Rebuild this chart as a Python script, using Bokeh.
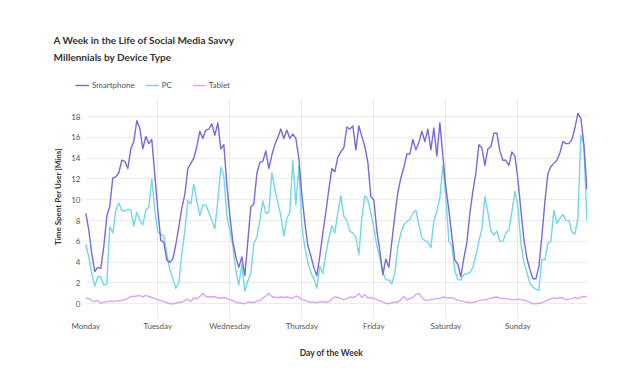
from bokeh.plotting import figure
from bokeh.models import Range1d, FixedTicker, Title, Legend, LegendItem, BoxAnnotation
from bokeh.embed import file_html
from bokeh.resources import INLINE

# ---- data (hourly minutes per user, Monday 00:00 .. Sunday 23:00) ----
days = ["Monday", "Tuesday", "Wednesday", "Thursday", "Friday", "Saturday", "Sunday"]
y_ticks = [0, 2, 4, 6, 8, 10, 12, 14, 16, 18]
series_names = ["Smartphone", "PC", "Tablet"]

smartphone_mon = [8.7, 7.1, 4.8, 3.1, 3.5, 3.4, 5.5, 8.4, 9.4, 12.1, 12.2, 12.6, 13.8, 13.7, 13.0, 14.9, 15.6, 17.6, 16.9, 14.9, 16.1, 15.4, 15.8, 12.4]
smartphone_tue = [9.0, 6.1, 5.9, 4.2, 4.0, 4.3, 5.7, 7.4, 9.2, 10.5, 13.0, 13.5, 14.0, 15.1, 16.6, 15.9, 16.7, 16.8, 17.3, 16.2, 17.4, 14.9, 15.3, 11.5]
smartphone_wed = [8.5, 6.0, 4.5, 3.5, 4.5, 2.7, 6.0, 9.3, 9.6, 12.5, 13.6, 13.7, 14.7, 13.0, 14.3, 15.3, 16.0, 16.8, 15.9, 16.7, 15.9, 16.3, 15.9, 14.0]
smartphone_thu = [10.5, 7.8, 5.6, 4.6, 3.5, 2.7, 4.6, 6.8, 8.8, 11.0, 13.0, 12.7, 14.1, 14.6, 15.0, 17.0, 16.8, 17.1, 14.8, 17.1, 16.1, 15.1, 13.6, 10.3]
smartphone_fri = [10.0, 7.0, 5.1, 2.8, 4.3, 3.5, 6.0, 8.5, 10.7, 12.1, 13.1, 14.4, 14.4, 15.8, 14.8, 15.5, 16.6, 15.6, 16.8, 14.8, 16.9, 14.2, 17.4, 14.2]
smartphone_sat = [11.2, 9.0, 6.5, 4.2, 3.8, 2.6, 4.4, 5.9, 8.7, 10.8, 12.6, 15.3, 15.0, 13.3, 14.9, 15.1, 16.4, 16.4, 14.7, 13.8, 13.8, 13.3, 14.6, 14.2]
smartphone_sun = [12.0, 9.0, 6.2, 4.4, 3.3, 2.4, 2.4, 3.6, 6.5, 9.8, 12.5, 13.2, 13.5, 13.8, 14.5, 15.6, 15.4, 15.4, 15.8, 16.9, 18.3, 17.8, 15.3, 11.0]

pc_mon = [5.7, 4.5, 2.9, 1.7, 2.6, 2.6, 1.8, 1.9, 7.4, 6.8, 9.0, 9.7, 9.0, 8.9, 9.1, 9.0, 7.5, 8.8, 8.0, 7.6, 9.0, 9.3, 12.0, 9.0]
pc_tue = [6.9, 6.7, 6.5, 4.8, 3.3, 2.4, 1.5, 2.0, 4.8, 7.0, 9.9, 9.6, 11.5, 9.9, 8.5, 9.5, 9.5, 8.8, 8.0, 7.2, 9.9, 13.1, 12.3, 8.5]
pc_wed = [7.0, 5.6, 3.2, 1.8, 3.8, 1.2, 2.2, 2.9, 5.8, 6.4, 8.0, 9.9, 8.7, 8.8, 12.6, 11.0, 9.7, 8.5, 6.5, 8.2, 8.8, 13.8, 9.5, 13.2]
pc_thu = [7.5, 5.4, 4.0, 3.0, 2.4, 1.5, 3.6, 2.9, 4.8, 6.3, 7.5, 6.8, 8.8, 10.4, 8.4, 8.0, 7.0, 6.8, 6.4, 4.7, 8.3, 10.4, 10.0, 8.7]
pc_fri = [7.3, 5.6, 4.4, 3.0, 2.3, 2.3, 1.9, 3.0, 5.5, 6.8, 7.6, 7.9, 8.1, 8.7, 9.0, 7.6, 6.3, 6.1, 5.9, 5.4, 8.0, 8.9, 10.2, 13.3]
pc_sat = [10.2, 6.0, 5.6, 3.2, 2.3, 2.3, 2.8, 2.9, 3.0, 3.5, 4.7, 6.0, 7.2, 10.3, 8.8, 7.0, 6.6, 7.0, 6.0, 6.0, 6.8, 7.1, 8.8, 10.8]
pc_sun = [9.4, 5.8, 4.0, 3.0, 2.0, 1.6, 1.4, 1.3, 4.3, 4.2, 5.8, 6.0, 9.0, 7.7, 8.2, 8.6, 8.0, 8.0, 6.9, 6.7, 8.2, 16.2, 15.2, 8.0]

tablet_mon = [0.55, 0.5, 0.3, 0.2, 0.3, 0.05, 0.15, 0.2, 0.25, 0.25, 0.25, 0.3, 0.3, 0.4, 0.5, 0.7, 0.7, 0.75, 0.8, 0.65, 0.8, 0.7, 0.6, 0.5]
tablet_tue = [0.4, 0.3, 0.2, 0.1, 0.0, 0.0, 0.05, 0.15, 0.15, 0.3, 0.45, 0.2, 0.6, 0.45, 0.7, 1.0, 0.7, 0.65, 0.65, 0.7, 0.55, 0.55, 0.6, 0.5]
tablet_wed = [0.4, 0.3, 0.15, 0.1, 0.05, 0.0, 0.15, 0.15, 0.1, 0.25, 0.3, 0.55, 0.75, 1.0, 0.7, 0.6, 0.6, 0.65, 0.6, 0.65, 0.6, 0.5, 0.75, 0.65]
tablet_thu = [0.4, 0.35, 0.2, 0.15, 0.15, 0.1, 0.2, 0.2, 0.15, 0.2, 0.45, 0.65, 0.6, 0.5, 0.4, 0.5, 0.65, 0.6, 0.7, 1.0, 0.6, 0.9, 0.55, 0.6]
tablet_fri = [0.5, 0.4, 0.3, 0.15, 0.05, 0.0, 0.1, 0.15, 0.15, 0.4, 0.7, 0.35, 0.5, 0.6, 0.9, 1.0, 0.6, 0.35, 0.35, 0.4, 0.45, 0.5, 0.5, 0.65]
tablet_sat = [0.6, 0.55, 0.6, 0.45, 0.35, 0.3, 0.2, 0.15, 0.1, 0.15, 0.2, 0.3, 0.35, 0.4, 0.45, 0.55, 0.6, 0.65, 0.55, 0.5, 0.5, 0.45, 0.4, 0.4]
tablet_sun = [0.45, 0.4, 0.35, 0.25, 0.15, 0.0, 0.0, 0.05, 0.1, 0.2, 0.35, 0.5, 0.55, 0.5, 0.6, 0.55, 0.4, 0.45, 0.5, 0.6, 0.5, 0.65, 0.7, 0.65]

smartphone = smartphone_mon + smartphone_tue + smartphone_wed + smartphone_thu + smartphone_fri + smartphone_sat + smartphone_sun
pc = pc_mon + pc_tue + pc_wed + pc_thu + pc_fri + pc_sat + pc_sun
tablet = tablet_mon + tablet_tue + tablet_wed + tablet_thu + tablet_fri + tablet_sat + tablet_sun
hours = list(range(len(smartphone)))
day_ticks = [24 * i for i in range(len(days))]

FONT = "Lato"
COLORS = ["#7b69d6", "#72d8e6", "#d8a5f4"]
TITLE_COLOR = "#333333"
Y_TOP = 19.64     # top of the visible data area (value units)

p = figure(frame_width=512, frame_height=242, output_backend="svg", toolbar_location=None,
           title=None,
           x_range=Range1d(-3.43, 167.2), y_range=Range1d(-1.32, 21.95),
           min_border_left=75, min_border_right=45,
           min_border_top=75, min_border_bottom=67)
p.outline_line_color = None
p.background_fill_color = "white"

# white masks so grid lines only cover the data area (drawn just above the grid)
p.add_layout(BoxAnnotation(bottom=Y_TOP, fill_color="white", fill_alpha=1,
                           line_color=None, level="underlay"))
p.add_layout(BoxAnnotation(right=0, fill_color="white", fill_alpha=1,
                           line_color=None, level="underlay"))

r_pc = p.line(hours, pc, line_color=COLORS[1], line_width=1.4, line_join="round")
r_ph = p.line(hours, smartphone, line_color=COLORS[0], line_width=1.4, line_join="round")
r_tb = p.line(hours, tablet, line_color=COLORS[2], line_width=1.4, line_join="round")

p.xaxis.ticker = FixedTicker(ticks=day_ticks)
p.xaxis.major_label_overrides = {t: d for t, d in zip(day_ticks, days)}
p.yaxis.ticker = FixedTicker(ticks=y_ticks)
for ax in (p.xaxis[0], p.yaxis[0]):
    ax.axis_line_color = None
    ax.major_tick_line_color = None
    ax.minor_tick_line_color = None
    ax.major_tick_out = 0
    ax.major_tick_in = 0
    ax.minor_tick_out = 0
    ax.minor_tick_in = 0
    ax.major_label_text_font = FONT
    ax.major_label_text_font_size = "8px"
    ax.major_label_text_color = "#555555"
    ax.axis_label_text_font = FONT
    ax.axis_label_text_font_style = "bold"
    ax.axis_label_text_color = TITLE_COLOR
p.xaxis.axis_label = "Day of the Week"
p.yaxis.axis_label = "Time Spent Per User [Mins]"
p.xaxis.axis_label_text_font_size = "8.5px"
p.yaxis.axis_label_text_font_size = "8px"
p.xaxis.major_label_standoff = 3
p.yaxis.major_label_standoff = -5
p.xaxis.axis_label_standoff = 14
p.yaxis.axis_label_standoff = 5

p.xgrid.ticker = FixedTicker(ticks=day_ticks[1:])
p.ygrid.ticker = FixedTicker(ticks=y_ticks)
p.xgrid.grid_line_color = "#e8e8ec"
p.ygrid.grid_line_color = "#ececf0"

legend = Legend(items=[LegendItem(label=n, renderers=[r]) for n, r in zip(series_names, [r_ph, r_pc, r_tb])],
                orientation="horizontal", location=(0, 226),
                margin=0, padding=0, spacing=10,
                glyph_width=14, glyph_height=12, label_height=12, label_standoff=3,
                label_text_font=FONT, label_text_font_size="8px",
                label_text_color="#555555",
                border_line_color=None, background_fill_alpha=0)
p.add_layout(legend, "center")

title = Title(text="A Week in the Life of Social Media Savvy\nMillennials by Device Type",
              align="left", offset=-22, standoff=25,
              text_font=FONT, text_font_size="10px", text_font_style="bold",
              text_color=TITLE_COLOR, text_line_height=1.43)
p.add_layout(title, "above")

open("out.html", "w").write(file_html(p, INLINE))
